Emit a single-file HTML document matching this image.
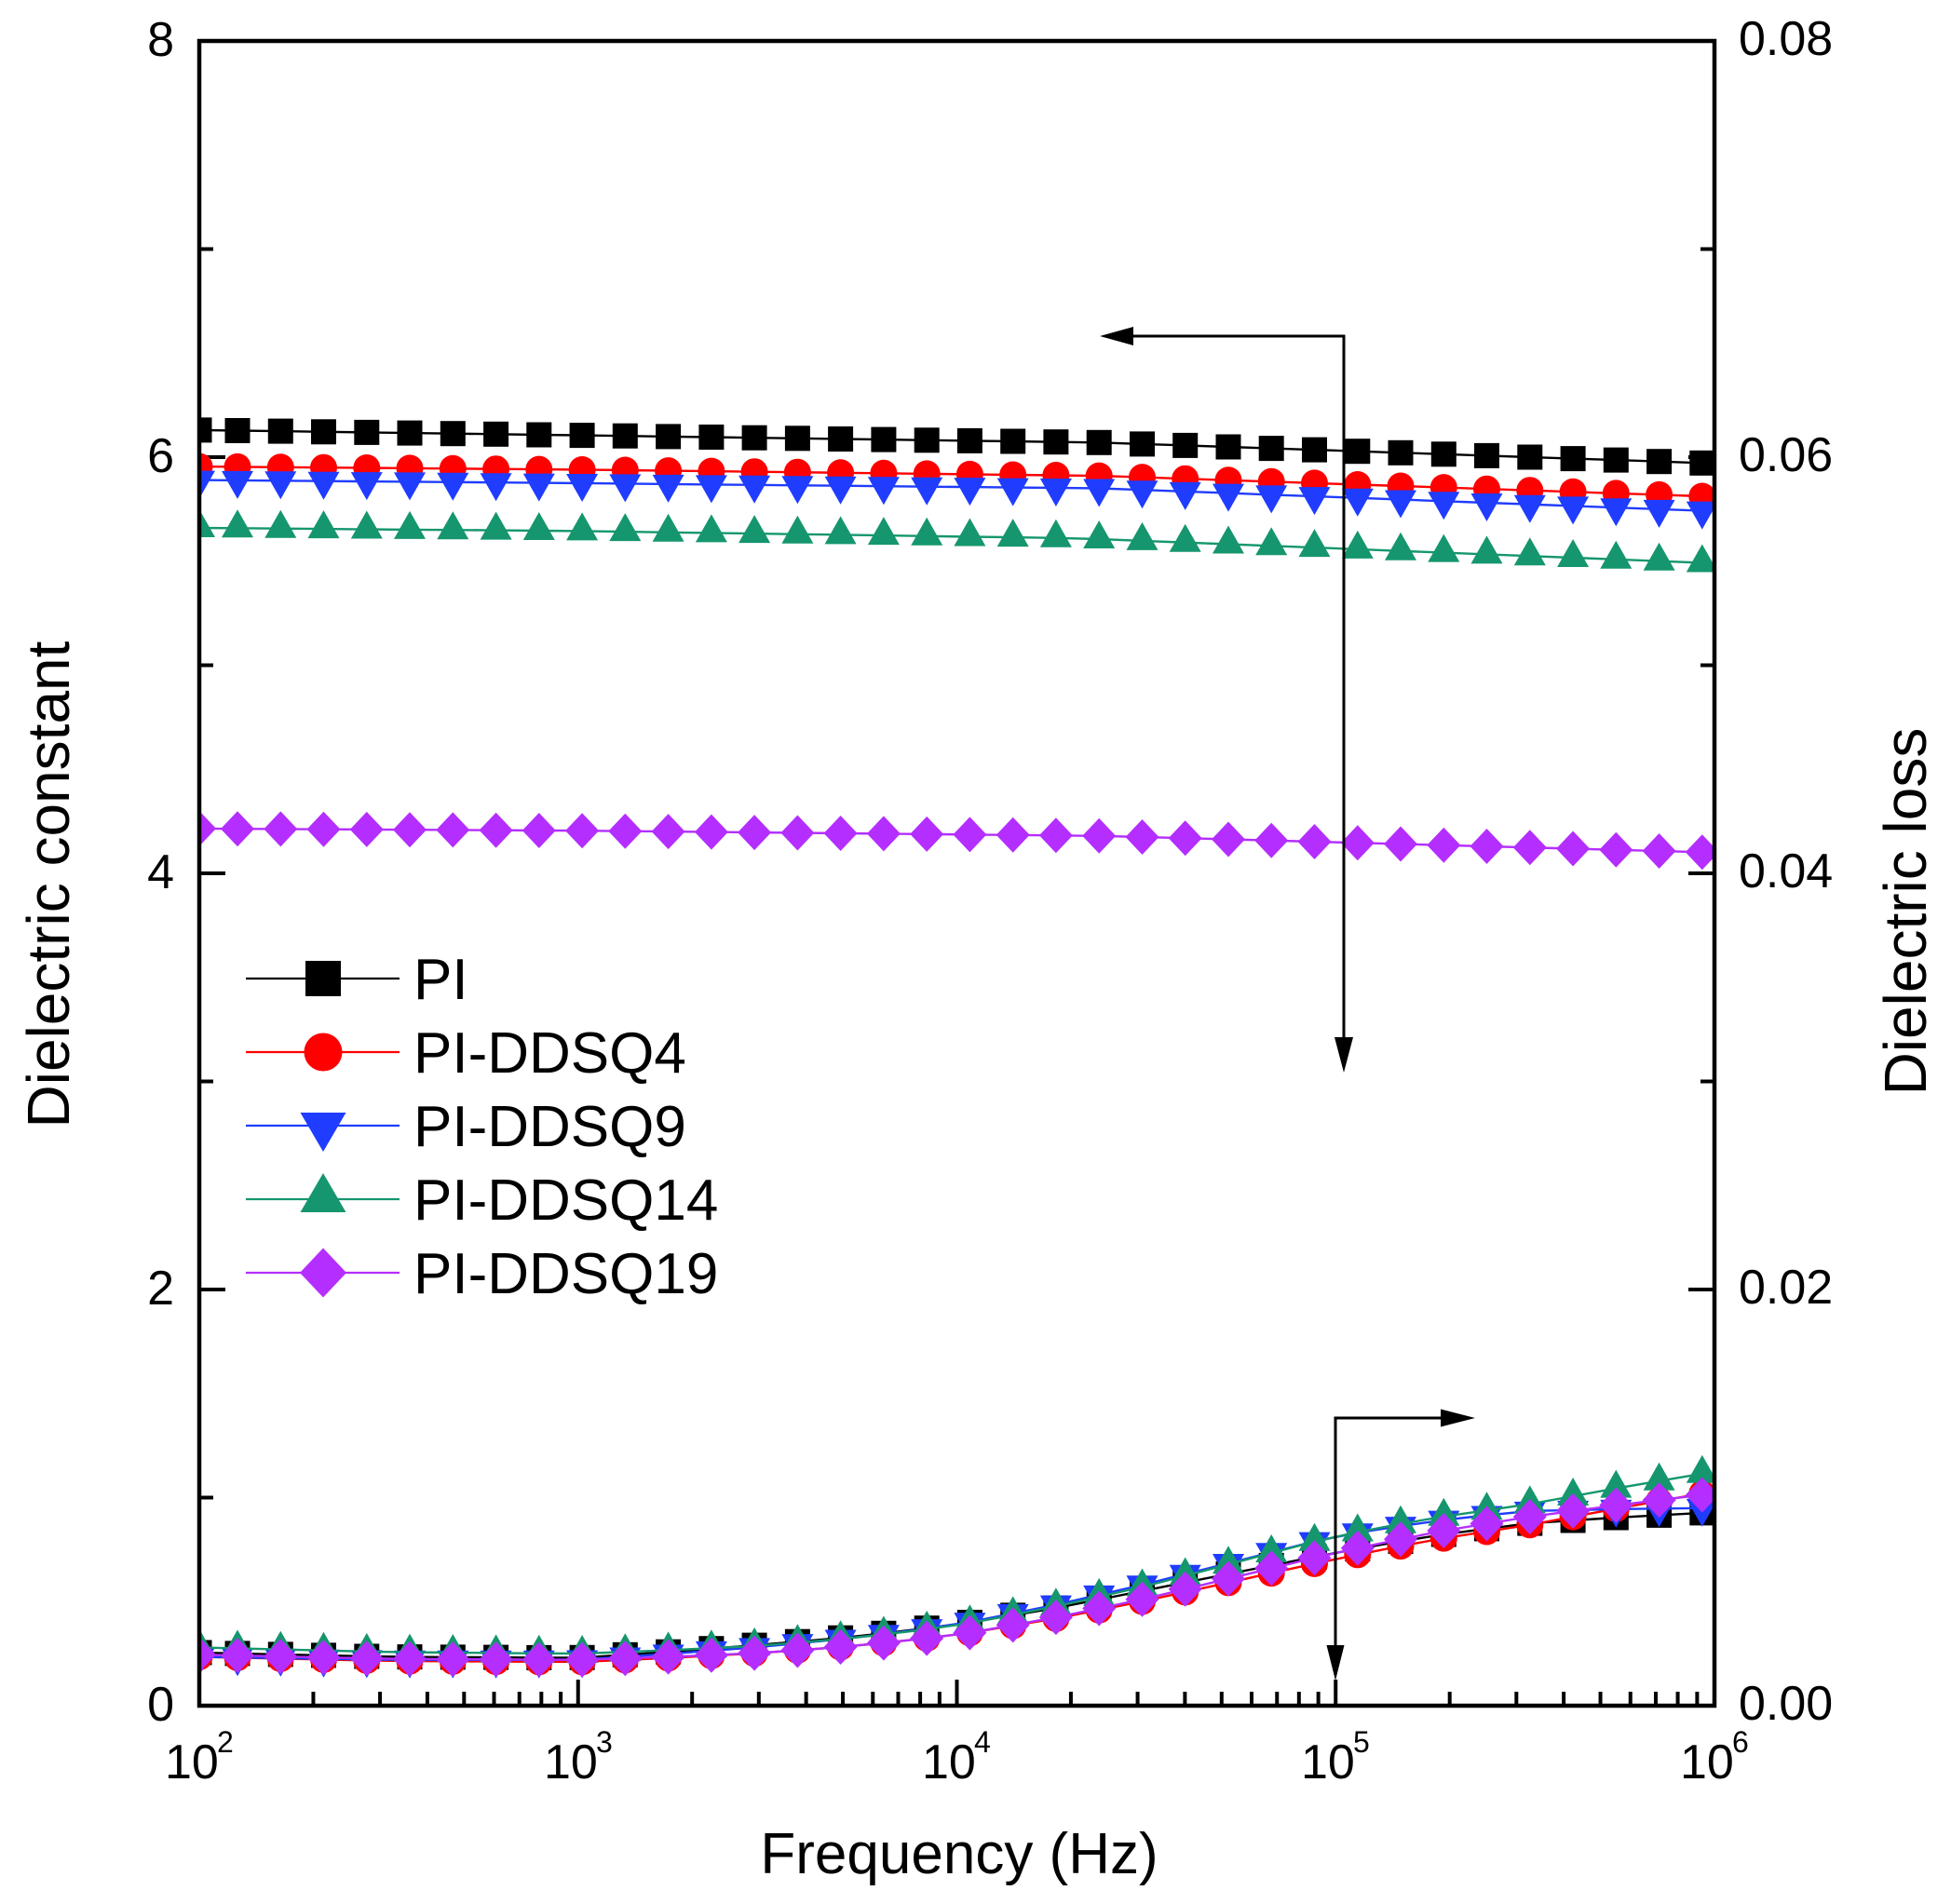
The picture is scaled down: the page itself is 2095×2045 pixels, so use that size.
<!DOCTYPE html>
<html>
<head>
<meta charset="utf-8">
<style>
  html, body { margin: 0; padding: 0; background: #ffffff; }
  svg { display: block; }
  text { font-family: "Liberation Sans", Arial, sans-serif; fill: #000; }
</style>
</head>
<body>
<svg id="chart" xmlns="http://www.w3.org/2000/svg" width="2095" height="2045" viewBox="0 0 2095 2045">
  <rect x="0" y="0" width="2095" height="2045" fill="#ffffff"/>
  <defs>
    <clipPath id="plotclip"><rect x="214" y="44" width="1627" height="1788"/></clipPath>
  </defs>

  <g id="ticks" stroke="#000" stroke-width="4"></g>
  <g id="data" clip-path="url(#plotclip)"></g>

  <!-- arrows -->
  <g stroke="#000" stroke-width="3" fill="none">
    <polyline points="1443,1116 1443,361 1215,361"/>
    <polyline points="1434,1768 1434,1523 1549,1523"/>
  </g>
  <g fill="#000">
    <polygon points="1181,361 1217,351 1217,371"/>
    <polygon points="1443,1152 1433,1114 1453,1114"/>
    <polygon points="1584,1523 1547,1513.5 1547,1532.5"/>
    <polygon points="1434,1805 1424.5,1767 1443.5,1767"/>
  </g>

  <!-- frame -->
  <rect x="214" y="44" width="1627" height="1788" fill="none" stroke="#000" stroke-width="4.5"/>

  <!-- left tick labels -->
  <g font-size="52" text-anchor="end">
    <text x="187" y="1848">0</text>
    <text x="187" y="1401">2</text>
    <text x="187" y="954">4</text>
    <text x="187" y="507">6</text>
    <text x="187" y="60">8</text>
  </g>
  <!-- right tick labels -->
  <g font-size="52" text-anchor="start">
    <text x="1867" y="1847">0.00</text>
    <text x="1867" y="1400">0.02</text>
    <text x="1867" y="953">0.04</text>
    <text x="1867" y="506">0.06</text>
    <text x="1867" y="59">0.08</text>
  </g>
  <!-- bottom tick labels -->
  <g font-size="52">
    <text x="177" y="1910">10</text><text x="233" y="1882" font-size="32">2</text>
    <text x="584" y="1910">10</text><text x="640" y="1882" font-size="32">3</text>
    <text x="990" y="1910">10</text><text x="1046" y="1882" font-size="32">4</text>
    <text x="1397" y="1910">10</text><text x="1453" y="1882" font-size="32">5</text>
    <text x="1804" y="1910">10</text><text x="1860" y="1882" font-size="32">6</text>
  </g>

  <!-- axis titles -->
  <text font-size="64" text-anchor="middle" transform="translate(74,950) rotate(-90)">Dielectric constant</text>
  <text font-size="64" text-anchor="middle" transform="translate(2068,979) rotate(-90)">Dielectric loss</text>
  <text font-size="62" text-anchor="middle" x="1030" y="2012">Frequency (Hz)</text>

  <!-- legend -->
  <g stroke-width="2.2">
    <line x1="264" y1="1051" x2="429" y2="1051" stroke="#000000"/>
    <line x1="264" y1="1130" x2="429" y2="1130" stroke="#ff0000"/>
    <line x1="264" y1="1209" x2="429" y2="1209" stroke="#1f3cff"/>
    <line x1="264" y1="1288" x2="429" y2="1288" stroke="#15966e"/>
    <line x1="264" y1="1367" x2="429" y2="1367" stroke="#b42eff"/>
  </g>
  <rect x="328" y="1032" width="38" height="38" fill="#000000"/>
  <circle cx="347" cy="1130" r="20.5" fill="#ff0000"/>
  <polygon points="322.5,1195 371.5,1195 347,1237" fill="#1f3cff"/>
  <polygon points="347,1260 371.5,1302 322.5,1302" fill="#15966e"/>
  <polygon points="347,1340.5 372,1367 347,1393.5 322,1367" fill="#b42eff"/>
  <g font-size="62">
    <text x="444" y="1073">PI</text>
    <text x="444" y="1152">PI-DDSQ4</text>
    <text x="444" y="1231">PI-DDSQ9</text>
    <text x="444" y="1310">PI-DDSQ14</text>
    <text x="444" y="1389">PI-DDSQ19</text>
  </g>
</svg>

<script>
(function(){
  var NS = "http://www.w3.org/2000/svg";
  var X = function(t){ return 214 + 406.75*t; };
  var Y = function(v){ return 1832 - 223.5*v; };

  // ticks
  var tk = document.getElementById("ticks");
  function ln(x1,y1,x2,y2){
    var e = document.createElementNS(NS,"line");
    e.setAttribute("x1",x1); e.setAttribute("y1",y1);
    e.setAttribute("x2",x2); e.setAttribute("y2",y2);
    tk.appendChild(e);
  }
  for (var v=0; v<=8; v++){
    var y = Y(v), L = (v%2===0)?28:15;
    ln(214,y,214+L,y);
    ln(1841,y,1841-L,y);
  }
  for (var d=0; d<4; d++){
    ln(X(d),1832,X(d),1832-28);
    for (var m=2; m<=9; m++){
      var xx = X(d+Math.log10(m));
      ln(xx,1832,xx,1832-15);
    }
  }
  ln(X(4),1832,X(4),1832-28);

  // x positions of data
  var xs = [214];
  for (var k=1; k<=35; k++) xs.push(255 + 46.26*(k-1));
  var ts = xs.map(function(x){ return (x-214)/406.75; });

  function interp(cp, t){
    if (t<=cp[0][0]) return cp[0][1];
    for (var i=1;i<cp.length;i++){
      if (t<=cp[i][0]){
        var a=cp[i-1], b=cp[i];
        return a[1] + (b[1]-a[1])*(t-a[0])/(b[0]-a[0]);
      }
    }
    return cp[cp.length-1][1];
  }

  var purpleLow = [[0,0.245],[0.5,0.225],[1,0.22],[1.25,0.235],[1.5,0.255],[1.75,0.29],[2,0.34],[2.25,0.42],[2.5,0.515],[2.75,0.625],[3,0.735],[3.25,0.83],[3.5,0.905],[3.75,0.965],[4,1.02]];
  var offT = [0,1,1.5,2,2.5,3,3.5,4];
  function offs(arr){ return offT.map(function(t,i){ return [t,arr[i]]; }); }

  var series = [
    {c:"#000000", m:"sq", up:[[0,6.13],[1,6.105],[2.38,6.07],[4,5.97]],
     off:offs([0.01,0.01,0.04,0.05,0.04,0.0,-0.03,-0.09])},
    {c:"#ff0000", m:"ci", up:[[0,5.955],[1,5.94],[2.38,5.91],[4,5.81]],
     off:offs([-0.01,-0.01,0,0,-0.01,-0.03,-0.04,0.01])},
    {c:"#1f3cff", m:"dn", up:[[0,5.89],[1,5.875],[2.38,5.85],[4,5.74]],
     off:offs([-0.01,0,0.03,0.05,0.07,0.08,0.03,-0.07])},
    {c:"#15966e", m:"up", up:[[0,5.66],[1,5.645],[2.32,5.61],[4,5.49]],
     off:offs([0.035,0.03,0.035,0.045,0.06,0.08,0.06,0.105])},
    {c:"#b42eff", m:"di", up:[[0,4.215],[1,4.205],[2.38,4.18],[4,4.10]],
     off:offs([0,0,0,0,0,0,0,0])}
  ];

  function marker(type, x, y){
    switch(type){
      case "sq": return '<rect x="'+(x-13.5)+'" y="'+(y-13.5)+'" width="27" height="27"/>';
      case "ci": return '<circle cx="'+x+'" cy="'+y+'" r="14.5"/>';
      case "dn": return '<polygon points="'+(x-17)+','+(y-10)+' '+(x+17)+','+(y-10)+' '+x+','+(y+20)+'"/>';
      case "up": return '<polygon points="'+x+','+(y-20)+' '+(x+17)+','+(y+10)+' '+(x-17)+','+(y+10)+'"/>';
      case "di": return '<polygon points="'+x+','+(y-19)+' '+(x+18)+','+y+' '+x+','+(y+19)+' '+(x-18)+','+y+'"/>';
    }
    return "";
  }

  var html = "";
  ["up","low"].forEach(function(grp){
    series.forEach(function(s){
      var pts = ts.map(function(t,i){
        var v = (grp==="up") ? interp(s.up,t) : interp(purpleLow,t) + interp(s.off,t);
        return [xs[i], Y(v)];
      });
      html += '<polyline fill="none" stroke="'+s.c+'" stroke-width="2.4" points="'+
        pts.map(function(p){ return p[0].toFixed(1)+","+p[1].toFixed(1); }).join(" ")+'"/>';
      html += '<g fill="'+s.c+'">';
      pts.forEach(function(p){ html += marker(s.m, +p[0].toFixed(1), +p[1].toFixed(1)); });
      html += '</g>';
    });
  });
  document.getElementById("data").innerHTML = html;
})();
</script>
</body>
</html>
